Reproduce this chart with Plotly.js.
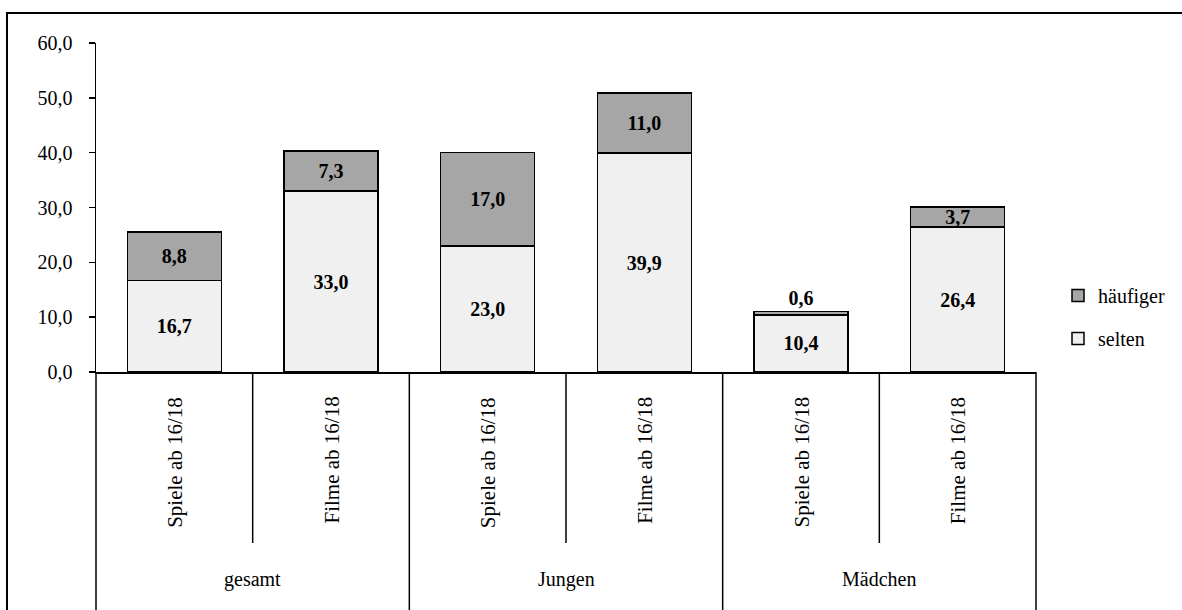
<!DOCTYPE html>
<html>
<head>
<meta charset="utf-8">
<script src="https://cdn.plot.ly/plotly-3.0.1.min.js"></script>
<style>
  html, body { margin: 0; padding: 0; background: #fff; }
  #chart { width: 1182px; height: 610px; }
</style>
</head>
<body>
<div id="chart"></div>
<script>
// Anteil (%) der Nutzung von Spielen/Filmen ab 16/18, gestapelt nach Häufigkeit
const groups = ['gesamt', 'Jungen', 'Mädchen'];
const items = ['Spiele ab 16/18', 'Filme ab 16/18'];
const selten = [16.7, 33.0, 23.0, 39.9, 10.4, 26.4];
const haeufiger = [8.8, 7.3, 17.0, 11.0, 0.6, 3.7];

const FONT = '"Liberation Serif", "Times New Roman", Times, serif';
const nCat = groups.length * items.length;
const xs = Array.from({length: nCat}, (_, i) => i);

// small segments get their label above the stack
const haeufigerPos = haeufiger.map(v => (v < 2 ? 'outside' : 'inside'));

const traces = [
  {
    type: 'bar', name: 'selten', x: xs, y: selten, width: 0.6,
    legendgroup: 'selten', legendrank: 2,
    marker: { color: '#f0f0f0', line: { color: '#000', width: 1.5 } },
    texttemplate: '<b>%{y:.1f}</b>', textposition: 'inside',
    insidetextanchor: 'middle', constraintext: 'none',
    textfont: { family: FONT, size: 20, color: '#000' },
    hoverinfo: 'skip'
  },
  {
    type: 'bar', name: 'häufiger', x: xs, y: haeufiger, width: 0.6,
    legendgroup: 'haeufiger', legendrank: 1,
    marker: { color: '#a6a6a6', line: { color: '#000', width: 1.5 } },
    texttemplate: '<b>%{y:.1f}</b>', textposition: haeufigerPos,
    insidetextanchor: 'middle', constraintext: 'none', cliponaxis: false,
    textfont: { family: FONT, size: 20, color: '#000' },
    hoverinfo: 'skip'
  }
];

// Pixel geometry of the plot area
const W = 1182, H = 610;
const M = { l: 96, r: 146, t: 43, b: 238 };
const PW = W - M.l - M.r, PH = H - M.t - M.b;
const px2x = p => (p - M.l) / PW;
const py2y = p => (H - M.b - p) / PH;

const shapes = [];
const annotations = [];

// outer chart frame
shapes.push({
  type: 'rect', xref: 'paper', yref: 'paper',
  x0: px2x(7), x1: px2x(W + 20), y0: py2y(H + 20), y1: py2y(13),
  line: { color: '#000', width: 2 }, fillcolor: 'rgba(0,0,0,0)', layer: 'below'
});

// category dividers below the axis: long ones between groups, short ones inside a group
for (let k = 0; k <= nCat; k++) {
  const isGroupEdge = k % items.length === 0;
  shapes.push({
    type: 'line', xref: 'paper', yref: 'paper',
    x0: k / nCat, x1: k / nCat, y0: 0,
    y1: isGroupEdge ? py2y(H + 20) : py2y(543),
    line: { color: '#000', width: 1.5 }
  });
}

// item labels (rotated) and group labels
for (let g = 0; g < groups.length; g++) {
  for (let j = 0; j < items.length; j++) {
    const k = g * items.length + j;
    annotations.push({
      xref: 'paper', yref: 'paper', x: (k + 0.5) / nCat, y: py2y(395),
      xanchor: 'center', yanchor: 'top', textangle: -90, showarrow: false,
      text: items[j], font: { family: FONT, size: 21, color: '#000' }
    });
  }
  annotations.push({
    xref: 'paper', yref: 'paper',
    x: (g + 0.5) * items.length / nCat, y: py2y(579),
    xanchor: 'center', yanchor: 'middle', showarrow: false,
    text: groups[g], font: { family: FONT, size: 20, color: '#000' }
  });
}

const layout = {
  width: W, height: H,
  margin: M,
  paper_bgcolor: '#fff', plot_bgcolor: '#fff',
  barmode: 'stack',
  separators: ',.',
  font: { family: FONT, size: 20, color: '#000' },
  uniformtext: { mode: 'show', minsize: 20 },
  xaxis: {
    range: [-0.5, nCat - 0.5], showticklabels: false, ticks: '',
    showgrid: false, zeroline: false, showline: true,
    linecolor: '#000', linewidth: 1.5, fixedrange: true
  },
  yaxis: {
    range: [0, 60], dtick: 10, tick0: 0, tickformat: '.1f',
    ticks: 'outside', ticklen: 6, tickwidth: 1.5, tickcolor: '#000',
    ticklabelstandoff: 12,
    showgrid: false, zeroline: false, showline: true,
    linecolor: '#000', linewidth: 1.5,
    tickfont: { family: FONT, size: 20, color: '#000' }, fixedrange: true
  },
  showlegend: true,
  legend: {
    x: px2x(1058), xanchor: 'left', y: py2y(317), yanchor: 'middle',
    traceorder: 'grouped', tracegroupgap: 14,
    font: { family: FONT, size: 20, color: '#000' },
    bgcolor: 'rgba(0,0,0,0)'
  },
  shapes: shapes,
  annotations: annotations
};

Plotly.newPlot('chart', traces, layout, { displayModeBar: false, staticPlot: true });
</script>
</body>
</html>
